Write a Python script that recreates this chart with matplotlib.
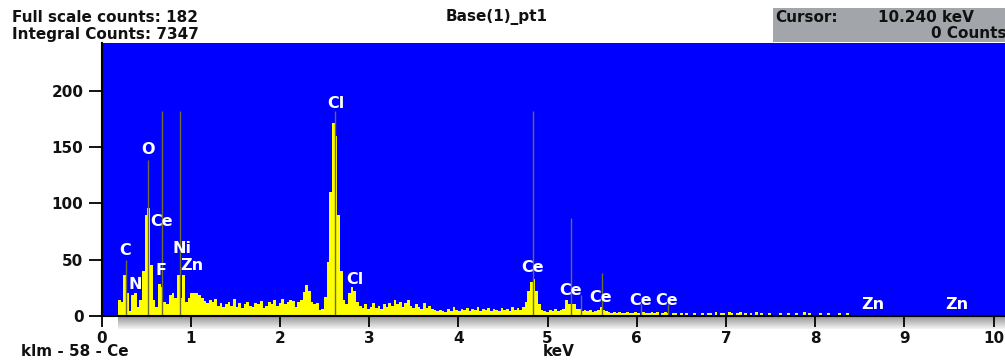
import matplotlib.pyplot as plt
import numpy as np
from matplotlib.colors import LinearSegmentedColormap

# EDS spectrum, counts per 0.03 keV channel starting at 0.20 keV
channel_start = 0.20
channel_width = 0.03
counts = [
    14, 12, 36, 20, 4, 18, 20, 8, 14, 40,        # 0.20
    90, 96, 45, 14, 8, 28, 26, 12, 10, 18,       # 0.50
    20, 16, 36, 16, 36, 12, 16, 20, 20, 20,      # 0.80
    18, 16, 13, 11, 14, 12, 15, 9, 11, 8,        # 1.10
    10, 12, 9, 15, 8, 11, 7, 10, 12, 9,          # 1.40
    8, 11, 10, 13, 7, 9, 12, 10, 14, 9,          # 1.70
    11, 15, 10, 12, 14, 13, 8, 12, 14, 21,       # 2.00
    27, 22, 12, 10, 11, 5, 6, 17, 48, 110,       # 2.30
    172, 160, 90, 40, 14, 10, 20, 26, 22, 12,    # 2.60
    9, 7, 10, 6, 8, 11, 7, 9, 6, 10,             # 2.90
    8, 11, 9, 14, 10, 12, 8, 11, 14, 9,          # 3.20
    7, 10, 8, 6, 11, 7, 9, 6, 5, 4,              # 3.50
    5, 4, 3, 6, 4, 8, 5, 4, 6, 5,                # 3.80
    7, 4, 6, 5, 8, 4, 6, 5, 7, 4,                # 4.10
    6, 5, 4, 7, 5, 6, 4, 8, 5, 7,                # 4.40
    5, 8, 12, 22, 30, 33, 22, 10, 5, 4,          # 4.70
    3, 5, 4, 6, 4, 5, 6, 14, 10, 10,             # 5.00
    10, 6, 6, 4, 5, 4, 5, 3, 4, 5,               # 5.30
    8, 5, 4, 3, 2, 3, 2, 3, 2, 2,                # 5.60
    3, 2, 2, 3, 2, 1, 3, 2, 2, 3,                # 5.90
    2, 3, 1, 2, 3, 2, 1, 2, 2, 1,                # 6.20
    2, 1, 2, 1, 1, 2, 1, 1, 2, 1,                # 6.50
    2, 2, 1, 3, 1, 2, 2, 1, 3, 2,                # 6.80
    1, 2, 3, 1, 2, 1, 2, 1, 3, 1,                # 7.10
    2, 1, 1, 2, 1, 1, 0, 2, 1, 1,                # 7.40
    2, 1, 1, 2, 1, 1, 3, 1, 2, 1,                # 7.70
    1, 0, 2, 1, 1, 2, 1, 1, 0, 2,                # 8.00
    1, 1, 2, 0, 1, 1, 0, 1, 0, 1,                # 8.30
    1, 0, 0, 0, 0, 0, 0, 0, 0, 0,                # 8.60
    0, 0, 0, 0, 0, 0, 0, 1, 0, 0,                # 8.90
    0, 0, 0, 0, 0, 0, 0, 0, 0, 0,                # 9.20
    0, 0, 0, 0, 0, 0, 0, 0, 0, 0,                # 9.50
    0, 0, 0, 0, 0, 0, 0, 0, 0, 0,                # 9.80
]
energies = channel_start + channel_width * np.arange(len(counts))

# element marker lines (keV, height in counts)
marker_kev = [0.27, 0.525, 0.68, 0.88, 2.62, 4.84, 5.26, 5.37, 5.61, 6.05, 6.35]
marker_top = [50, 139, 182, 182, 182, 182, 87, 18, 38, 10, 10]

# peak labels (text, keV, counts)
label_text = ['C', 'N', 'O', 'Ce', 'F', 'Ni', 'Zn', 'Cl', 'Cl',
              'Ce', 'Ce', 'Ce', 'Ce', 'Ce', 'Zn', 'Zn']
label_kev = [0.269, 0.381, 0.521, 0.675, 0.67, 0.899, 1.011, 2.625, 2.842,
             4.83, 5.26, 5.60, 6.048, 6.34, 8.651, 9.585]
label_cnt = [57.7, 28, 147.7, 84, 40.7, 59.7, 44.3, 189.3, 32.4,
             42.5, 22.6, 16.2, 13.3, 13.3, 10.2, 10.2]

yticks = [0, 50, 100, 150, 200]
xticks = list(range(11))
full_scale = 182

W, H = 1005, 361
fig = plt.figure(figsize=(W / 100, H / 100), dpi=100)
fig.patch.set_facecolor('white')
plt.rcParams['font.family'] = ['DejaVu Sans']
ink = '#111111'

def fx(px):
    return px / W

def fy(py):
    return 1 - py / H

# gray gradient strip under the energy axis
band = fig.add_axes([fx(118), fy(329), fx(W - 118), 13 / H])
grad = np.linspace(0, 1, 50).reshape(-1, 1)
cmap = LinearSegmentedColormap.from_list('band', ['#949494', '#f4f4f4'])
band.imshow(grad, aspect='auto', cmap=cmap, extent=[0, 1, 0, 1])
band.axis('off')

left, right, top, bottom = 101.5, W, 43.3, 315.7
ax = fig.add_axes([fx(left), fy(bottom), fx(right - left), (bottom - top) / H])
ax.set_facecolor('#0000ff')
px_per_kev = 89.2
ax.set_xlim(0, (right - left) / px_per_kev)
ax.set_ylim(0, full_scale * 4 / 3)

edges = np.append(energies - channel_width / 2, energies[-1] + channel_width / 2)
ax.stairs(counts, edges, fill=True, color='#ffff00', linewidth=0, zorder=2)
ax.vlines(marker_kev, 0, marker_top, color='#6e6e3a', linewidth=1.0, zorder=3)
for t, e, c in zip(label_text, label_kev, label_cnt):
    ax.text(e, c, t, color='white', fontsize=11.5, fontweight='bold',
            ha='center', va='center', zorder=4)

for s in ['top', 'right']:
    ax.spines[s].set_visible(False)
for s in ['left', 'bottom']:
    ax.spines[s].set_linewidth(1.5)
    ax.spines[s].set_color('black')
    ax.spines[s].set_zorder(5)

ax.set_xticks(xticks)
ax.set_yticks(yticks)
ax.tick_params(axis='x', direction='out', length=8, width=1.3, pad=3,
               labelsize=11)
ax.tick_params(axis='y', direction='out', length=9.5, width=1.3, pad=3.5,
               labelsize=11)
for lbl in ax.get_xticklabels() + ax.get_yticklabels():
    lbl.set_fontweight('bold')
    lbl.set_color(ink)

# header texts
fig.text(fx(12), fy(17), 'Full scale counts: %d' % full_scale, fontsize=11,
         fontweight='bold', va='center', ha='left', color=ink)
fig.text(fx(12), fy(34), 'Integral Counts: 7347', fontsize=11,
         fontweight='bold', va='center', ha='left', color=ink)
fig.text(fx(497), fy(17), 'Base(1)_pt1', fontsize=11, fontweight='bold',
         va='center', ha='center', color=ink)

fig.patches.append(plt.Rectangle((fx(773), fy(42)), fx(W - 773), 34 / H,
                                 transform=fig.transFigure, facecolor='#a2a6ab',
                                 edgecolor='none'))
fig.text(fx(775), fy(17), 'Cursor:', fontsize=11, fontweight='bold',
         va='center', ha='left', color=ink)
fig.text(fx(974), fy(17), '10.240 keV', fontsize=11, fontweight='bold',
         va='center', ha='right', color=ink)
fig.text(fx(1006), fy(34), '0 Counts', fontsize=11, fontweight='bold',
         va='center', ha='right', color=ink)

# footer texts
fig.text(fx(21), fy(352), 'klm - 58 - Ce', fontsize=11, fontweight='bold',
         va='center', ha='left', color=ink)
fig.text(fx(559), fy(352), 'keV', fontsize=11, fontweight='bold',
         va='center', ha='center', color=ink)

fig.savefig('out.png', dpi=100)
